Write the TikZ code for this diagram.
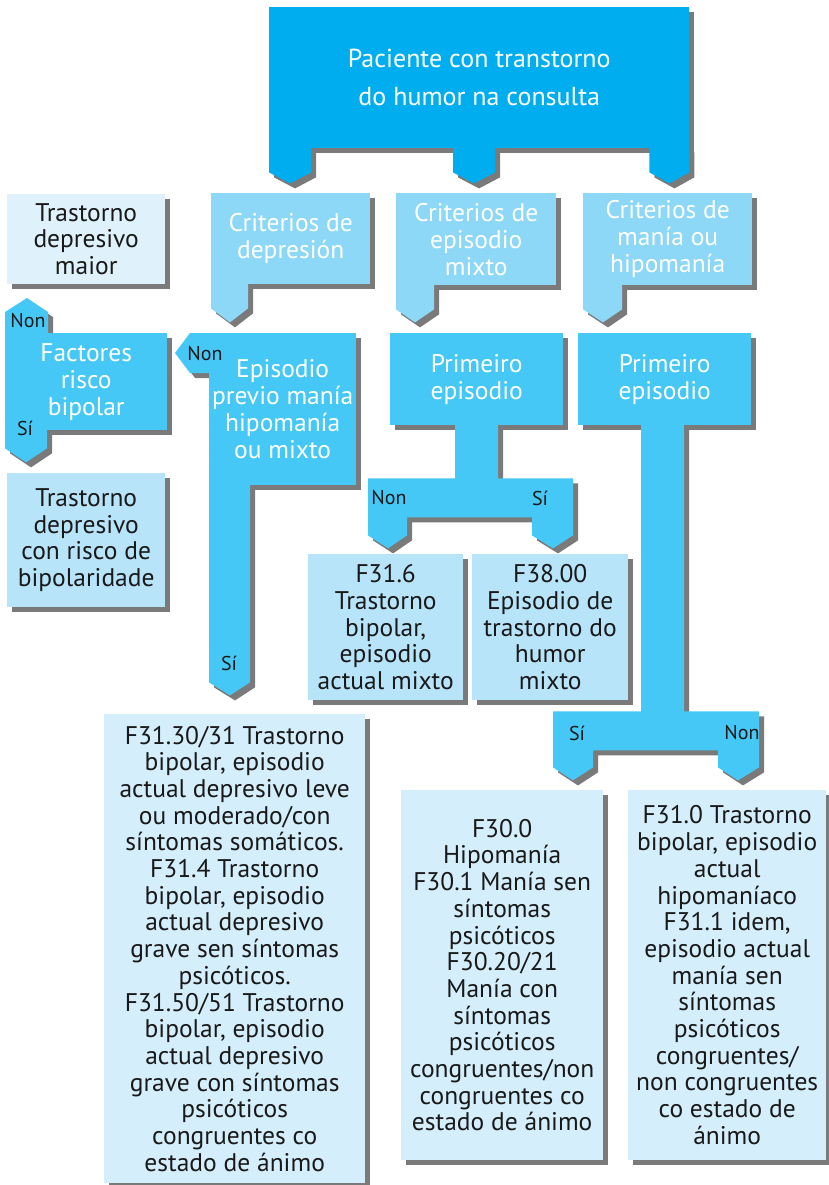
\documentclass[tikz,border=0pt]{standalone}
\usepackage{fontspec}
\setmainfont{PT Sans}
\usetikzlibrary{calc}
\pgfdeclarelayer{bg}
\pgfdeclarelayer{shadow}
\pgfsetlayers{bg,shadow,main}
\definecolor{ctop}{HTML}{00AEEF}
\definecolor{ccrit}{HTML}{8DD7F7}
\definecolor{cdec}{HTML}{45C8F5}
\definecolor{cmed}{HTML}{B8E4FA}
\definecolor{clight}{HTML}{D4EEFB}
\definecolor{clighter}{HTML}{DFF2FC}
\definecolor{shadowc}{HTML}{7A7A7A}
\newcommand\shp[2]{%
  \begin{pgfonlayer}{shadow}\fill[shadowc,transform canvas={shift={(5pt,-5pt)}}] #2;\end{pgfonlayer}%
  \fill[#1] #2;}
\tikzset{
  box/.style={rectangle, anchor=north west, inner sep=0pt, align=center},
  wtxt/.style={text=white, font=\fontsize{25.5}{27}\selectfont},
  btxt/.style={text=black!90, font=\fontsize{25.5}{26.7}\selectfont},
  lbl/.style={text=black!90, inner sep=0pt, font=\fontsize{20}{22}\selectfont},
}
\begin{document}
\begin{tikzpicture}[x=1pt,y=-1pt]
\useasboundingbox (0,0) rectangle (829,1185);
\begin{pgfonlayer}{bg}
\fill[white] (0,0) rectangle (829,1185);
\end{pgfonlayer}

% nodes
\node[box, fill=ctop, text=white, font=\fontsize{26}{38}\selectfont, minimum width=420pt, minimum height=141pt] (top) at (269,7) {Paciente con transtorno\\do humor na consulta};
\node[box, wtxt, fill=ccrit, minimum width=159pt, minimum height=91pt] (c1) at (211,193) {Criterios de\\depresión};
\node[box, wtxt, fill=ccrit, minimum width=160pt, minimum height=92pt] (c2) at (396,193) {Criterios de\\episodio\\mixto};
\node[box, wtxt, fill=ccrit, minimum width=169pt, minimum height=92pt] (c3) at (583,193) {Criterios de\\manía ou\\hipomanía};
\node[box, btxt, fill=clighter, minimum width=158pt, minimum height=90pt] (tdm) at (7,194) {Trastorno\\depresivo\\maior};
\node[box, wtxt, fill=cdec, minimum width=162pt, minimum height=97pt] (fac) at (5,333) {Factores\\risco\\bipolar};
\node[box, wtxt, fill=cdec, minimum width=147pt, minimum height=152pt] (ep) at (209,333) {Episodio\\previo manía\\hipomanía\\ou mixto};
\node[box, wtxt, fill=cdec, minimum width=173pt, minimum height=92pt] (pm1) at (390,333) {Primeiro\\episodio};
\node[box, wtxt, fill=cdec, minimum width=173pt, minimum height=92pt] (pm2) at (578,333) {Primeiro\\episodio};
\node[box, btxt, fill=cmed, minimum width=158pt, minimum height=134pt] (tdr) at (7,473) {Trastorno\\depresivo\\con risco de\\bipolaridade};
\node[box, btxt, fill=cmed, minimum width=155pt, minimum height=146pt] (f316) at (308,554) {F31.6\\Trastorno\\bipolar,\\episodio\\actual mixto};
\node[box, btxt, fill=cmed, minimum width=156pt, minimum height=146pt] (f3800) at (472,554) {F38.00\\Episodio de\\trastorno do\\humor\\mixto};
\node[box, btxt, fill=clight, minimum width=261pt, minimum height=469pt] (b1) at (104,714) {F31.30/31 Trastorno\\bipolar, episodio\\actual depresivo leve\\ou moderado/con\\síntomas somáticos.\\F31.4 Trastorno\\bipolar, episodio\\actual depresivo\\grave sen síntomas\\psicóticos.\\F31.50/51 Trastorno\\bipolar, episodio\\actual depresivo\\grave con síntomas\\psicóticos\\congruentes co\\estado de ánimo};
\node[box, btxt, fill=clight, minimum width=202pt, minimum height=370pt] (b2) at (401,790) {F30.0\\Hipomanía\\F30.1 Manía sen\\síntomas\\psicóticos\\F30.20/21\\Manía con\\síntomas\\psicóticos\\congruentes/non\\congruentes co\\estado de ánimo};
\node[box, btxt, fill=clight, minimum width=198pt, minimum height=370pt] (b3) at (628,790) {F31.0 Trastorno\\bipolar, episodio\\actual\\hipomaníaco\\F31.1 idem,\\episodio actual\\manía sen\\síntomas\\psicóticos\\congruentes/\\non congruentes\\co estado de\\ánimo};

\begin{pgfonlayer}{shadow}
\foreach \n in {top,c1,c2,c3,tdm,fac,ep,pm1,pm2,tdr,f316,f3800,b1,b2,b3}
  \fill[shadowc,transform canvas={shift={(5pt,-5pt)}}] (\n.north west) rectangle (\n.south east);
\end{pgfonlayer}

% connectors (tab arrows)
\shp{ctop}{($(top.south west)+(0,-1)$) -- ++(0,25) -- ++(21,11) -- ++(21,-11) -- ++(0,-25) -- cycle}
\shp{ctop}{($(top.south west)+(184,-1)$) -- ++(0,25) -- ++(21,11) -- ++(21,-11) -- ++(0,-25) -- cycle}
\shp{ctop}{($(top.south east)+(-40,-1)$) -- ++(0,25) -- ++(20,11) -- ++(20,-11) -- ++(0,-25) -- cycle}
\shp{ccrit}{($(c1.south west)+(0,-1)$) -- ++(0,25) -- ++(19,14) -- ++(18,-14) -- ++(0,-25) -- cycle}
\shp{ccrit}{($(c2.south west)+(0,-1)$) -- ++(0,25) -- ++(19,13) -- ++(19,-13) -- ++(0,-25) -- cycle}
\shp{ccrit}{($(c3.south west)+(0,-1)$) -- ++(0,25) -- ++(20,13) -- ++(19,-13) -- ++(0,-25) -- cycle}
\shp{cdec}{($(fac.north west)+(0,1)$) -- ++(0,-22) -- ++(22,-14) -- ++(21,14) -- ++(0,22) -- cycle}
\shp{cdec}{($(fac.south west)+(0,-1)$) -- ++(0,19) -- ++(21,14) -- ++(21,-14) -- ++(0,-19) -- cycle}
\shp{cdec}{($(ep.north west)+(1,0)$) -- ++(-20,0) -- ++(-15,20) -- ++(15,20) -- ++(20,0) -- cycle}
\shp{cdec}{($(ep.south west)+(0,-1)$) -- ++(0,198) -- ++(21,13) -- ++(20,-13) -- ++(0,-198) -- cycle}
\shp{cdec}{($(pm1.south west)+(65,-1)$) -- ++(0,54) -- ++(-87,0) -- ++(0,57) -- ++(20,13) -- ++(19,-13) -- ++(0,-18) -- ++(125,0) -- ++(0,18) -- ++(21,13) -- ++(20,-13) -- ++(0,-57) -- ++(-75,0) -- ++(0,-54) -- cycle}
\shp{cdec}{($(pm2.south west)+(63,-1)$) -- ++(0,287) -- ++(-88,0) -- ++(0,56) -- ++(20,13) -- ++(20,-13) -- ++(0,-17) -- ++(125,0) -- ++(0,17) -- ++(20,13) -- ++(21,-13) -- ++(0,-56) -- ++(-75,0) -- ++(0,-287) -- cycle}

% labels
\node[lbl] (l1) at (28,321) {Non};
\node[lbl] (l2) at (25,428) {Sí};
\node[lbl] (l3) at (205,354) {Non};
\node[lbl] (l4) at (229,663) {Sí};
\node[lbl] (l5) at (389,498) {Non};
\node[lbl] (l6) at (540,498) {Sí};
\node[lbl] (l7) at (577,733) {Sí};
\node[lbl] (l8) at (742,733) {Non};
\end{tikzpicture}
\end{document}
